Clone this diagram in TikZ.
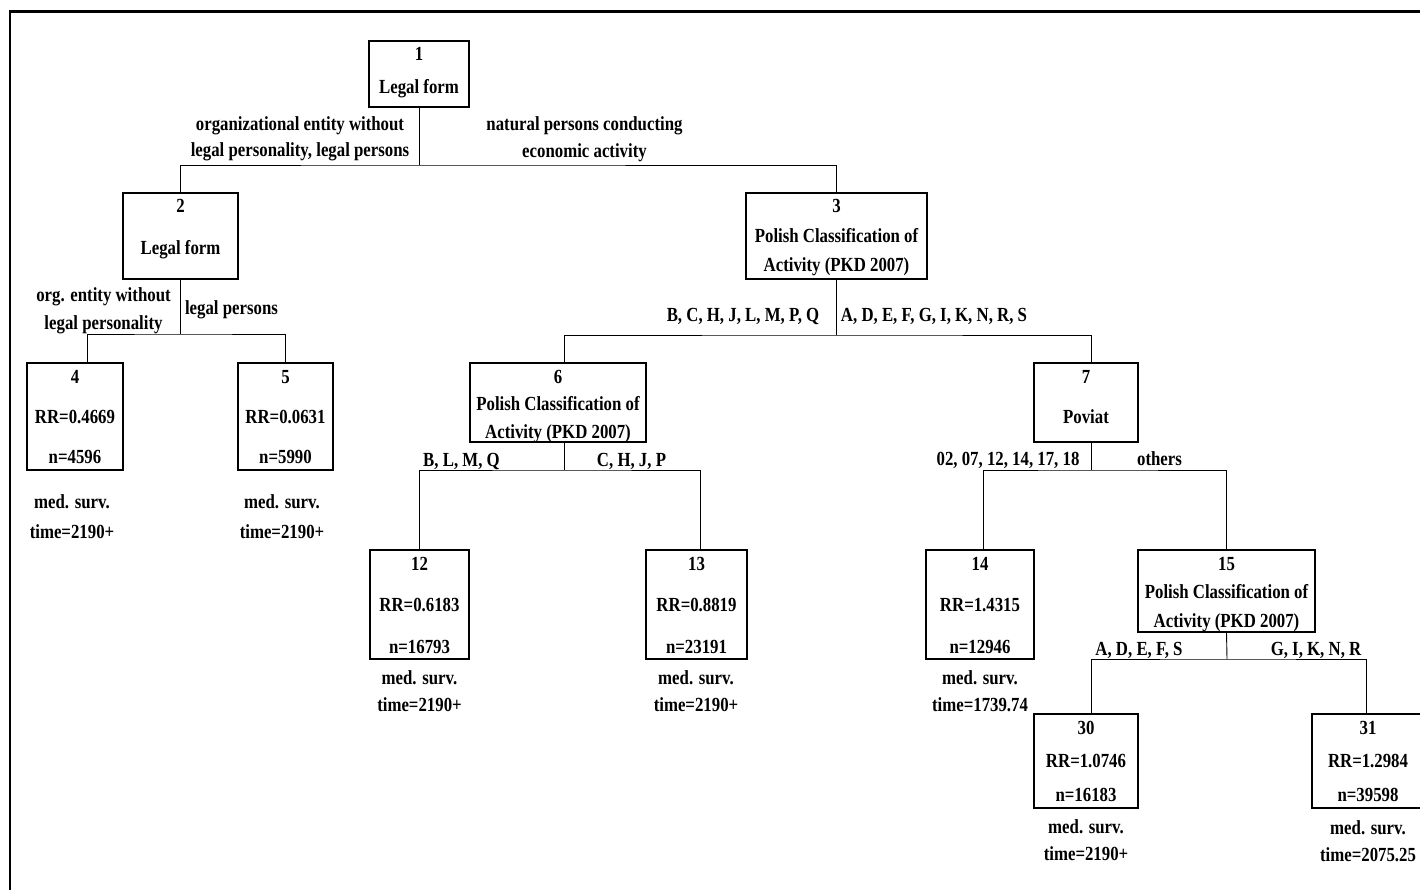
\documentclass[tikz,border=0pt]{standalone}
\usepackage{fontspec}
\setmainfont{Liberation Serif}[FakeStretch=0.84]
\newcommand{\cellbox}[4]{\parbox[c][#2][t]{#1}{\centering\bfseries\fontsize{20}{#3}\selectfont\rule{0pt}{20pt}#4\par}}
\tikzset{
  box/.style={draw, line width=1.6pt, inner sep=0pt},
  link/.style={line width=0.9pt},
  lab/.style={font=\bfseries\fontsize{20}{26.5}\selectfont, align=center, inner sep=0pt},
  note/.style={font=\bfseries\fontsize{20}{27}\selectfont, align=center, inner sep=0pt},
}
\begin{document}
\begin{tikzpicture}[x=1pt, y=-1pt]
	\useasboundingbox (0,0) rectangle (1420,890);
	\draw[line width=2.5pt] (10,890) -- (10,11.5) -- (1420,11.5);
	%noeuds
	\node[box] (n1) at (419,74) {\cellbox{100pt}{66pt}{33pt}{1\\Legal form}};
	\node[box] (n2) at (180.5,236) {\cellbox{115pt}{86pt}{42pt}{2\\Legal form}};
	\node[box] (n3) at (836.5,236) {\cellbox{181pt}{86pt}{29.5pt}{3\\Polish Classification of\\Activity (PKD 2007)}};
	\node[box] (n4) at (75,416.5) {\cellbox{96pt}{107pt}{40pt}{4\\RR=0.4669\\n=4596}};
	\node[box] (n5) at (285.5,416.5) {\cellbox{95pt}{107pt}{40pt}{5\\RR=0.0631\\n=5990}};
	\node[box] (n6) at (558,402.5) {\cellbox{176pt}{79pt}{27.5pt}{6\\Polish Classification of\\Activity (PKD 2007)}};
	\node[box] (n7) at (1086,402.5) {\cellbox{104pt}{79pt}{40pt}{7\\Poviat}};
	\node[box] (n12) at (419.5,604.5) {\cellbox{99pt}{109pt}{41.5pt}{12\\RR=0.6183\\n=16793}};
	\node[box] (n13) at (696.5,604.5) {\cellbox{101pt}{109pt}{41.5pt}{13\\RR=0.8819\\n=23191}};
	\node[box] (n14) at (980,604.5) {\cellbox{108pt}{109pt}{41.5pt}{14\\RR=1.4315\\n=12946}};
	\node[box] (n15) at (1226.5,591) {\cellbox{177pt}{82pt}{28.5pt}{15\\Polish Classification of\\Activity (PKD 2007)}};
	\node[box] (n30) at (1086,761) {\cellbox{104pt}{94pt}{33.5pt}{30\\RR=1.0746\\n=16183}};
	\node[box] (n31) at (1368,761) {\cellbox{112pt}{94pt}{33.5pt}{31\\RR=1.2984\\n=39598}};
	%branches
	\coordinate (j1) at (419,165);
	\coordinate (j2) at (180.5,334);
	\coordinate (j3) at (836.5,335);
	\coordinate (j6) at (564,470);
	\coordinate (j7) at (1091,470);
	\coordinate (j15) at (1227,659);
	\draw[link] (n1.south) -- (j1);
	\draw[link] (n2.north) |- (j1) -| (n3.north);
	\draw[link] (n2.south) -- (j2);
	\draw[link] ([xshift=12pt]n4.north) |- (j2) -| (n5.north);
	\draw[link] (n3.south) -- (j3);
	\draw[link] ([xshift=6pt]n6.north) |- (j3) -| ([xshift=5pt]n7.north);
	\draw[link] ([xshift=6pt]n6.south) -- (j6);
	\draw[link] (n12.north) |- (j6) -| ([xshift=3.5pt]n13.north);
	\draw[link] ([xshift=5pt]n7.south) -- (j7);
	\draw[link] ([xshift=3pt]n14.north) |- (j7) -| (n15.north);
	\draw[link] (n15.south) -- (j15);
	\draw[link] ([xshift=5pt]n30.north) |- (j15) -| ([xshift=-2pt]n31.north);
	%étiquettes
	\node[lab] (l1a) at (300,139) {organizational entity without\\legal personality, legal persons};
	\node[lab] (l1b) at (584.5,139) {natural persons conducting\\economic activity};
	\node[lab, font=\bfseries\fontsize{20}{28}\selectfont] (l2a) at (103.5,311) {org. entity without\\legal personality};
	\node[lab, anchor=base] (l2b) at (231.5,314.6) {legal persons};
	\node[lab, anchor=base] (l3a) at (743,321.6) {B, C, H, J, L, M, P, Q};
	\node[lab, anchor=base] (l3b) at (934,321.6) {A, D, E, F, G, I, K, N, R, S};
	\node[lab, anchor=base] (l6a) at (461.5,466) {B, L, M, Q};
	\node[lab, anchor=base] (l6b) at (631.5,466) {C, H, J, P};
	\node[lab, anchor=base] (l7a) at (1008,465) {02, 07, 12, 14, 17, 18};
	\node[lab, anchor=base] (l7b) at (1159.5,465) {others};
	\node[lab, anchor=base] (l15a) at (1139,655) {A, D, E, F, S};
	\node[lab, anchor=base] (l15b) at (1316,655) {G, I, K, N, R};
	%survie
	\node[note, font=\bfseries\fontsize{20}{30}\selectfont] (s4) at (72,517) {med. surv.\\time=2190+};
	\node[note, font=\bfseries\fontsize{20}{30}\selectfont] (s5) at (282,517) {med. surv.\\time=2190+};
	\node[note] (s12) at (419.5,691.5) {med. surv.\\time=2190+};
	\node[note] (s13) at (696,691.5) {med. surv.\\time=2190+};
	\node[note] (s14) at (980,691.5) {med. surv.\\time=1739.74};
	\node[note] (s30) at (1086,840.5) {med. surv.\\time=2190+};
	\node[note] (s31) at (1368,841.5) {med. surv.\\time=2075.25};
\end{tikzpicture}
\end{document}
